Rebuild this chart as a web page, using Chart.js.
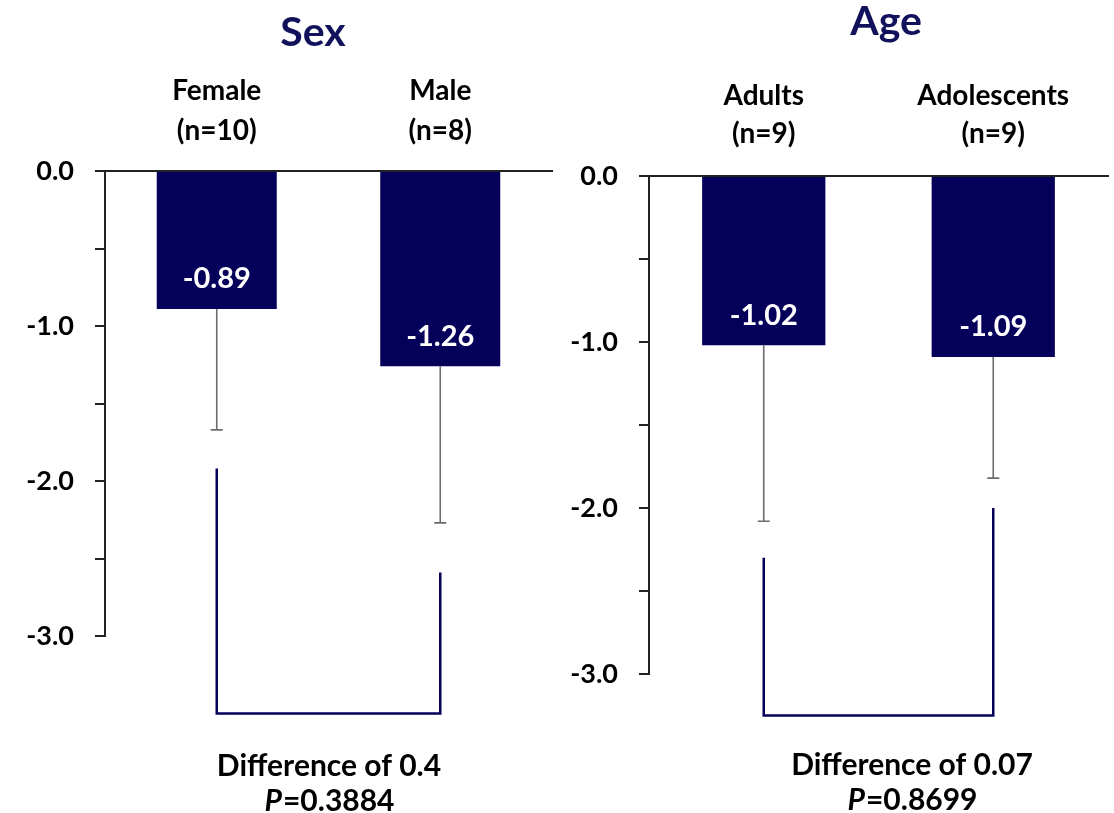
<!DOCTYPE html>
<html>
<head>
<meta charset="utf-8">
<script src="https://cdn.jsdelivr.net/npm/chart.js@4.4.1/dist/chart.umd.min.js"></script>
<style>
  html, body { margin: 0; padding: 0; background: #fff; }
  #wrap { position: relative; width: 1114px; height: 813px; overflow: hidden; }
  .panel { position: absolute; top: 0; }
  #sexBox { left: 0; width: 560px; height: 813px; }
  #ageBox { left: 549px; width: 565px; height: 813px; }
</style>
</head>
<body>
<div id="wrap">
  <div class="panel" id="sexBox"><canvas id="sexChart"></canvas></div>
  <div class="panel" id="ageBox"><canvas id="ageChart"></canvas></div>
</div>
<script>
// ---- data: sex panel ----
const sexTitle = 'Sex';
const sexCategories = [['Female', '(n=10)'], ['Male', '(n=8)']];
const sexMeans = [-0.89, -1.26];
const sexSD = [0.78, 1.01];
const sexBracketTops = [-1.92, -2.59];
const sexBracketBottom = -3.5;
const sexNote = ['Difference of 0.4', '0.3884'];

// ---- data: age panel ----
const ageTitle = 'Age';
const ageCategories = [['Adults', '(n=9)'], ['Adolescents', '(n=9)']];
const ageMeans = [-1.02, -1.09];
const ageSD = [1.06, 0.73];
const ageBracketTops = [-2.30, -2.00];
const ageBracketBottom = -3.25;
const ageNote = ['Difference of 0.07', '0.8699'];

const yTickMin = -3;
const yTickMax = 0;
const yTickStep = 0.5;

const FONT = 'Lato, "Open Sans", sans-serif';
const NAVY = '#05005a';
const TITLE_NAVY = '#12125c';

// value labels, lower error bars, comparison bracket, panel title and footer
const panelDecor = {
  id: 'panelDecor',
  afterDatasetsDraw(chart) {
    const o = chart.options.plugins.panelDecor;
    const ctx = chart.ctx;
    const x = chart.scales.x, y = chart.scales.y;
    const means = chart.data.datasets[0].data;
    ctx.save();
    // error bars (minus direction)
    ctx.strokeStyle = '#6b6b6b';
    ctx.lineWidth = 1.6;
    means.forEach((m, i) => {
      const cx = x.getPixelForValue(i);
      const y0 = y.getPixelForValue(m);
      const y1 = y.getPixelForValue(m - o.sd[i]);
      ctx.beginPath();
      ctx.moveTo(cx, y0); ctx.lineTo(cx, y1);
      ctx.moveTo(cx - 6, y1); ctx.lineTo(cx + 6, y1);
      ctx.stroke();
    });
    // value labels inside bars
    ctx.fillStyle = '#ffffff';
    ctx.font = 'bold 29px ' + FONT;
    ctx.textAlign = 'center';
    ctx.textBaseline = 'middle';
    means.forEach((m, i) => {
      ctx.fillText(m.toFixed(2), x.getPixelForValue(i), y.getPixelForValue(m) - 30);
    });
    ctx.restore();
  },
  afterDraw(chart) {
    const o = chart.options.plugins.panelDecor;
    const ctx = chart.ctx;
    const x = chart.scales.x, y = chart.scales.y;
    ctx.save();
    // bracket linking the two groups
    const xa = x.getPixelForValue(0), xb = x.getPixelForValue(1);
    const yb = y.getPixelForValue(o.bracketBottom);
    ctx.strokeStyle = NAVY;
    ctx.lineWidth = 2.5;
    ctx.lineJoin = 'miter';
    ctx.beginPath();
    ctx.moveTo(xa, y.getPixelForValue(o.bracketTops[0]));
    ctx.lineTo(xa, yb);
    ctx.lineTo(xb, yb);
    ctx.lineTo(xb, y.getPixelForValue(o.bracketTops[1]));
    ctx.stroke();
    // title
    ctx.fillStyle = TITLE_NAVY;
    ctx.font = 'bold 41px ' + FONT;
    ctx.textAlign = 'center';
    ctx.textBaseline = 'middle';
    ctx.fillText(o.title, o.titleX, o.titleY);
    // footer: difference and P value
    ctx.fillStyle = '#000';
    const bold = 'bold 30px ' + FONT;
    const italic = 'italic bold 30px ' + FONT;
    ctx.font = bold;
    ctx.fillText(o.note[0], o.noteX, o.noteY);
    ctx.font = italic;
    const wP = ctx.measureText('P').width;
    ctx.font = bold;
    const rest = '=' + o.note[1];
    const wR = ctx.measureText(rest).width;
    const sx = o.noteX - (wP + wR) / 2;
    ctx.textAlign = 'left';
    ctx.font = italic;
    ctx.fillText('P', sx, o.noteY + 35);
    ctx.font = bold;
    ctx.fillText(rest, sx + wP + 1, o.noteY + 35);
    ctx.restore();
  }
};

function makePanel(canvasId, cfg) {
  return new Chart(document.getElementById(canvasId), {
    type: 'bar',
    data: {
      labels: cfg.categories,
      datasets: [{
        data: cfg.means,
        backgroundColor: NAVY,
        borderWidth: 0,
        categoryPercentage: 1,
        barPercentage: 0.537
      }]
    },
    options: {
      responsive: true,
      maintainAspectRatio: false,
      animation: false,
      layout: { padding: { left: 0, right: cfg.padRight, top: 0, bottom: cfg.padBottom } },
      plugins: {
        legend: { display: false },
        tooltip: { enabled: false },
        title: { display: false },
        panelDecor: {
          sd: cfg.sd,
          bracketTops: cfg.bracketTops,
          bracketBottom: cfg.bracketBottom,
          title: cfg.title, titleX: cfg.titleX, titleY: cfg.titleY,
          note: cfg.note, noteX: cfg.noteX, noteY: cfg.noteY
        }
      },
      scales: {
        x: {
          position: 'top',
          grid: { display: false },
          border: { display: true, color: '#222', width: 2 },
          ticks: {
            color: '#000',
            font: { family: FONT, size: 28, weight: 'bold', lineHeight: cfg.xLineHeight },
            padding: cfg.xLabelPad,
            maxRotation: 0
          },
          afterFit(scale) { scale.height = cfg.top; }
        },
        y: {
          min: yTickMin,
          max: yTickMax,
          grid: { display: true, drawOnChartArea: false, drawTicks: true, tickLength: 10, color: '#222', lineWidth: 2 },
          border: { display: true, color: '#222', width: 2 },
          ticks: {
            stepSize: yTickStep,
            color: '#000',
            padding: 21,
            font: { family: FONT, size: 27, weight: 'bold' },
            callback: v => (Math.abs(v % 1) < 1e-9 ? v.toFixed(1) : '')
          },
          afterFit(scale) { scale.width = cfg.axisX; }
        }
      }
    },
    plugins: [panelDecor]
  });
}

makePanel('sexChart', {
  categories: sexCategories, means: sexMeans, sd: sexSD,
  bracketTops: sexBracketTops, bracketBottom: sexBracketBottom,
  title: sexTitle, titleX: 313, titleY: 33,
  note: sexNote, noteX: 329, noteY: 766,
  top: 171, padBottom: 813 - 636, padRight: 8, axisX: 105, xLabelPad: 12, xLineHeight: 1.43
});

makePanel('ageChart', {
  categories: ageCategories, means: ageMeans, sd: ageSD,
  bracketTops: ageBracketTops, bracketBottom: ageBracketBottom,
  title: ageTitle, titleX: 886 - 549, titleY: 22,
  note: ageNote, noteX: 912 - 549, noteY: 765,
  top: 176, padBottom: 813 - 674, padRight: 6, axisX: 100, xLabelPad: 15, xLineHeight: 1.36
});
</script>
</body>
</html>
